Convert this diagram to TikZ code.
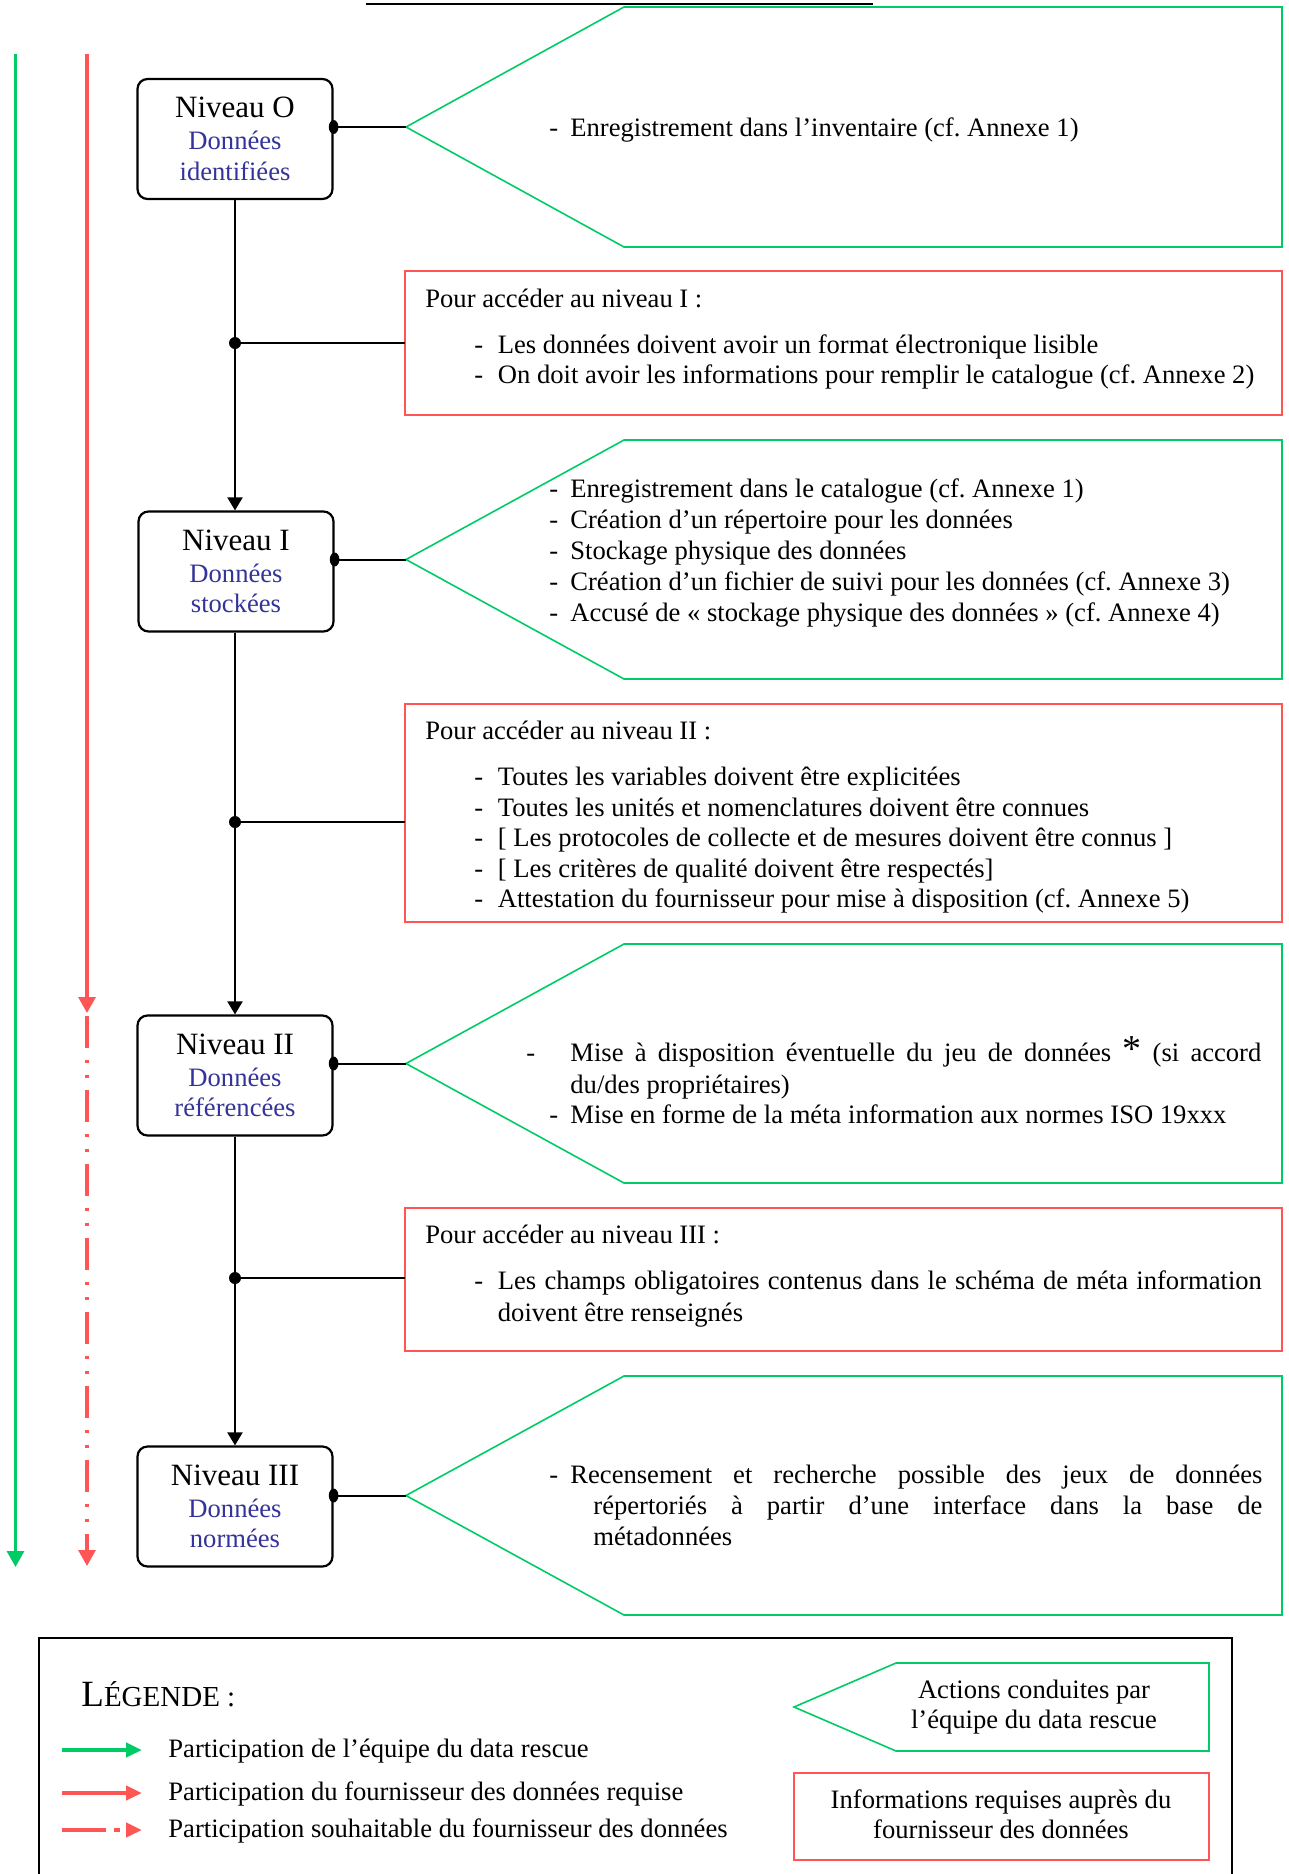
\documentclass[tikz,border=0pt]{standalone}
\usepackage{fontspec}
\setmainfont{Liberation Serif}
\usetikzlibrary{arrows.meta,calc,positioning}

\definecolor{actgreen}{RGB}{0,204,102}
\definecolor{infored}{RGB}{255,85,85}
\definecolor{datablue}{RGB}{51,51,153}

\newcommand{\niv}[2]{{\fontsize{15.5}{15.5}\selectfont Niveau #1}\\[.75pt]
  \textcolor{datablue}{Données}\\\textcolor{datablue}{#2}}
\newcommand{\tiretv}{\makebox[10.5pt][l]{-}}
\newcommand{\tiretr}{\makebox[11.75pt][l]{-}}
\frenchspacing

\begin{document}
\begin{tikzpicture}[
  x=0.5pt,y=-0.5pt,
  every node/.style={font=\fontsize{13.3}{15.25}\selectfont,inner sep=0pt},
  niveau/.style={draw,line width=1.1pt,rounded corners=5pt,align=center,
    minimum width=97.5pt,minimum height=60pt},
  txt/.style={anchor=base west},
  link/.style={line width=1pt,black},
  arr/.style={link,-{Triangle[length=6.5pt,width=7.5pt]}},
  act/.style={line width=.8pt,actgreen},
  req/.style={line width=.9pt,infored},
  flow/.style={line width=1.6pt,-{Triangle[length=8pt,width=8.5pt]}},
  legarr/.style={line width=2pt,-{Triangle[length=8pt,width=7pt]}},
  dashdot/.style={dash pattern=on 16pt off 6pt on 1.5pt off 6pt on 1.5pt off 6pt}]
  \useasboundingbox (0,0) rectangle (1289,1874);

  % title line, cut at the top edge
  \draw[line width=.85pt] (366,4) -- (873,4);

  % participation arrows
  \coordinate (gtop) at (15.5,54);
  \coordinate (gbot) at (15.5,1567);
  \coordinate (rtop) at (87,54);
  \coordinate (rmid) at (87,1013);
  \coordinate (rdot) at (87,1016);
  \coordinate (rbot) at (87,1566);
  \draw[flow,actgreen] (gtop) -- (gbot);
  \draw[flow,infored] (rtop) -- (rmid);
  \draw[flow,infored,dashdot] (rdot) -- (rbot);

  % levels
  \node[niveau] (niv0) at (235,139) {\niv{O}{identifiées}};
  \node[niveau] (niv1) at (236,571.5) {\niv{I}{stockées}};
  \node[niveau] (niv2) at (235,1075.5) {\niv{II}{référencées}};
  \node[niveau] (niv3) at (235,1506.5) {\niv{III}{normées}};

  % actions of the data rescue team
  \foreach \t/\b [count=\i from 0] in {7/247,440/679,944/1183,1376/1615}{
    \draw[act] (1282,\t) -- (624,\t) -- (406,{(\t+\b)/2}) -- (624,\b)
      -- (1282,\b) -- cycle;
    \coordinate (act\i) at (406,{(\t+\b)/2});
  }

  % information asked from the provider
  \draw[req] (405,271) rectangle (1282,415);
  \draw[req] (405,704) rectangle (1282,922);
  \draw[req] (405,1208) rectangle (1282,1351);
  \coordinate (req1) at (405,343);
  \coordinate (req2) at (405,822);
  \coordinate (req3) at (405,1278);

  % connectors
  \draw[arr] (niv0) -- (niv0 |- niv1.north);
  \draw[arr] (niv1.south -| niv0) -- (niv2);
  \draw[arr] (niv2) -- (niv3);
  \foreach \i in {1,2,3}{
    \coordinate (j\i) at (niv0 |- req\i);
    \draw[link] (j\i) -- (req\i);
    \fill (j\i) circle (3pt);
  }
  \foreach \i in {0,...,3}{
    \draw[link] (act\i -| niv\i.east) -- (act\i);
    \fill (act\i -| niv\i.east) ellipse [x radius=2.4pt,y radius=3.5pt];
  }

  % texts, level O
  \node[txt] (a0) at (549,136.5) {\tiretv Enregistrement dans l’inventaire (cf. Annexe 1)};
  \node[txt] (p1) at (425,307) {Pour accéder au niveau I :};
  \node[txt] (p1a) at (474,353)
    {\tiretr Les données doivent avoir un format électronique lisible};
  \node[txt] (p1b) at (474,383)
    {\tiretr On doit avoir les informations pour remplir le catalogue (cf. Annexe 2)};

  % texts, level I
  \foreach \l [count=\i] in {Enregistrement dans le catalogue (cf. Annexe 1),
      Création d’un répertoire pour les données,
      Stockage physique des données,
      Création d’un fichier de suivi pour les données (cf. Annexe 3),
      Accusé de « stockage physique des données » (cf. Annexe 4)}
    \node[txt] (a1\i) at (549,{497+31*(\i-1)}) {\tiretv \l};
  \node[txt] (p2) at (425,739.5) {Pour accéder au niveau II :};
  \foreach \l [count=\i] in {Toutes les variables doivent être explicitées,
      Toutes les unités et nomenclatures doivent être connues,
      {[ Les protocoles de collecte et de mesures doivent être connus ]},
      {[ Les critères de qualité doivent être respectés]},
      Attestation du fournisseur pour mise à disposition (cf. Annexe 5)}
    \node[txt] (p2\i) at (474,{785.5+30.5*(\i-1)}) {\tiretr \l};

  % texts, level II
  \node[txt] (a2a) at (526,1061) {\makebox[22pt][l]{-}\makebox[345.5pt][s]{Mise
    à disposition éventuelle du jeu de données {\fontsize{19}{19}\selectfont *} (si accord}};
  \node[txt] (a2b) at (570,1093) {du/des propriétaires)};
  \node[txt] (a2c) at (549,1123)
    {\tiretv Mise en forme de la méta information aux normes ISO 19xxx};
  \node[txt] (p3) at (425,1243) {Pour accéder au niveau III :};
  \node[txt] (p3a) at (474,1289) {\tiretr\makebox[382pt][s]{Les champs
    obligatoires contenus dans le schéma de méta information}};
  \node[txt] (p3b) at (497.5,1321) {doivent être renseignés};

  % texts, level III
  \node[txt] (a3a) at (549,1483) {\tiretv\makebox[346pt][s]{Recensement et
    recherche possible des jeux de données}};
  \node[txt] (a3b) at (593,1514) {\makebox[334.5pt][s]{répertoriés à partir
    d’une interface dans la base de}};
  \node[txt] (a3c) at (593,1545) {métadonnées};

  % legend
  \draw[line width=1.2pt] (39,1880) |- (1232,1638) -- (1232,1880);
  \node[txt] (lgd) at (81,1706)
    {{\fontsize{18.5}{18.5}\selectfont L}{\fontsize{14.5}{15}\selectfont ÉGENDE :}};
  \coordinate (lg1s) at (62,1750);
  \coordinate (lg1e) at (142,1750);
  \coordinate (lg2s) at (62,1793);
  \coordinate (lg2e) at (142,1793);
  \coordinate (lg3s) at (62,1830);
  \coordinate (lg3e) at (142,1830);
  \draw[legarr,actgreen] (lg1s) -- (lg1e);
  \draw[legarr,infored] (lg2s) -- (lg2e);
  \draw[legarr,infored,dash pattern=on 22pt off 4pt on 3pt off 4pt] (lg3s) -- (lg3e);
  \node[txt] (lg1) at (168,1757) {Participation de l’équipe du data rescue};
  \node[txt] (lg2) at (168,1800) {Participation du fournisseur des données requise};
  \node[txt] (lg3) at (168,1837) {Participation souhaitable du fournisseur des données};
  \draw[act] (1209,1663) -- (896,1663) -- (794,1707) -- (896,1751)
    -- (1209,1751) -- cycle;
  \node[align=center] (lgact) at (1034,1707)
    {Actions conduites par\\l’équipe du data rescue};
  \draw[req] (794,1773) rectangle (1209,1860);
  \node[align=center] (lgreq) at (1001,1814)
    {Informations requises auprès du\\fournisseur des données};
\end{tikzpicture}
\end{document}
